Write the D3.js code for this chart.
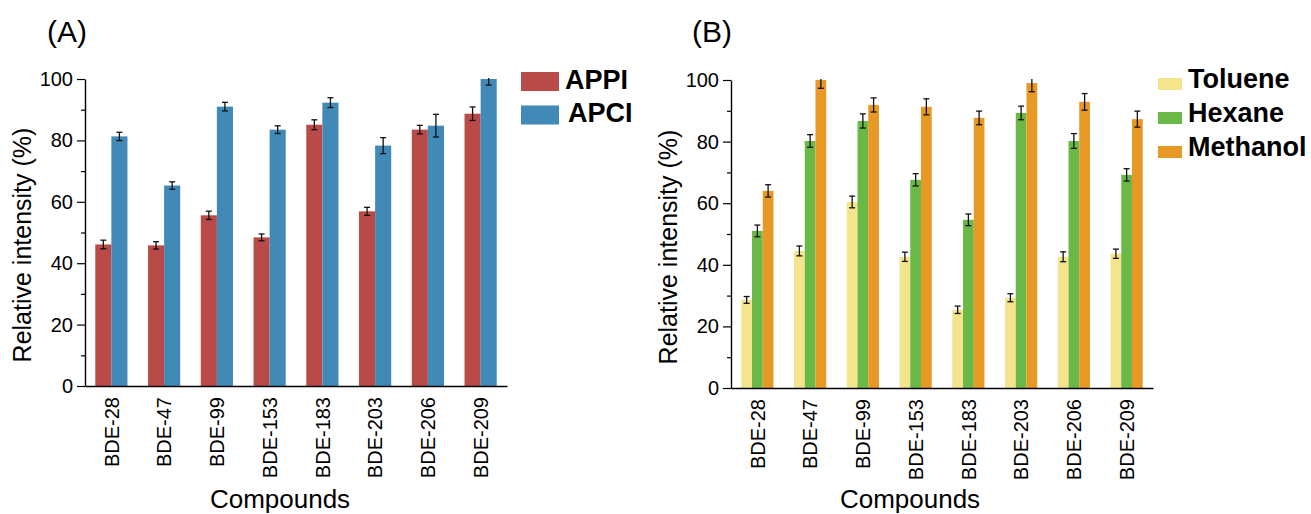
<!DOCTYPE html>
<html>
<head>
<meta charset="utf-8">
<script src="https://cdn.jsdelivr.net/npm/d3@7"></script>
<style>
  html, body { margin: 0; padding: 0; background: #fff; }
  svg { display: block; font-family: "Liberation Sans", Arial, sans-serif; }
</style>
</head>
<body>
<svg id="chart" width="1311" height="514"></svg>
<script>
// ---------- data ----------
const compounds = ["BDE-28", "BDE-47", "BDE-99", "BDE-153", "BDE-183", "BDE-203", "BDE-206", "BDE-209"];

// Panel A
const seriesA = ["APPI", "APCI"];
const appi    = [46.1, 45.8, 55.6, 48.4, 85.1, 56.9, 83.5, 88.7];
const appiErr = [1.4, 1.2, 1.35, 1.1, 1.6, 1.3, 1.4, 2.2];
const apci    = [81.3, 65.3, 91.0, 83.5, 92.3, 78.3, 84.8, 100];
const apciErr = [1.35, 1.2, 1.4, 1.25, 1.6, 2.6, 3.7, 2.0];

// Panel B
const seriesB = ["Toluene", "Hexane", "Methanol"];
const toluene     = [28.6, 44.5, 60.4, 42.6, 25.4, 29.3, 42.6, 43.6];
const tolueneErr  = [1.1, 1.6, 1.9, 1.5, 1.2, 1.3, 1.6, 1.5];
const hexane      = [51.0, 80.2, 86.7, 67.6, 54.6, 89.3, 80.2, 69.2];
const hexaneErr   = [1.9, 2.05, 2.3, 2.0, 1.9, 2.2, 2.4, 2.0];
const methanol    = [64.0, 100, 91.9, 91.3, 87.7, 99.0, 92.9, 87.3];
const methanolErr = [2.0, 2.7, 2.3, 2.6, 2.2, 2.8, 2.7, 2.6];

const yMajorTicks = [0, 20, 40, 60, 80, 100];
const yMinorTicks = [10, 30, 50, 70, 90];

const colorsA = ["#BA4A47", "#4189B6"];
const colorsB = ["#F4E48B", "#6AB946", "#E89824"];

// ---------- drawing ----------
const svg = d3.select("#chart");
const FONT = '"Liberation Sans", Arial, sans-serif';

function panel(opts) {
  const { left, right, top, bottom, series, values, errors, colors, tag, tagX,
          yLabelX, yLabelY, xLabelX, legendX, legendTextX, legendY, legendStep,
          swatchW, swatchH, swatchOff, clipId } = opts;

  const g = svg.append("g");

  const x = d3.scaleBand().domain(compounds).range([left, right])
    .paddingInner(0.39).paddingOuter(0.195);
  const xs = d3.scaleBand().domain(series).range([0, x.bandwidth()]);
  const y = d3.scaleLinear().domain([0, 100]).range([bottom, top]);

  // clip for error bars
  svg.append("defs").append("clipPath").attr("id", clipId)
    .append("rect").attr("x", left).attr("y", y(100) - 1)
    .attr("width", right - left).attr("height", y(0) - y(100) + 1);

  // bars
  series.forEach((s, si) => {
    g.append("g").selectAll("rect").data(compounds).join("rect")
      .attr("x", d => x(d) + xs(s))
      .attr("y", (d, i) => y(values[si][i]))
      .attr("width", xs.bandwidth())
      .attr("height", (d, i) => y(0) - y(values[si][i]))
      .attr("fill", colors[si]);
  });

  // error bars
  const eg = g.append("g").attr("clip-path", `url(#${clipId})`)
    .attr("stroke", "#111").attr("stroke-width", 1.3).attr("fill", "none");
  series.forEach((s, si) => {
    compounds.forEach((c, i) => {
      const cx = x(c) + xs(s) + xs.bandwidth() / 2;
      const v = values[si][i], e = errors[si][i];
      const y1 = y(v + e), y2 = y(v - e);
      eg.append("line").attr("x1", cx).attr("x2", cx).attr("y1", y1).attr("y2", y2);
      eg.append("line").attr("x1", cx - 3).attr("x2", cx + 3).attr("y1", y1).attr("y2", y1);
      eg.append("line").attr("x1", cx - 3).attr("x2", cx + 3).attr("y1", y2).attr("y2", y2);
    });
  });

  // y axis (major)
  const yAxis = g.append("g").attr("transform", `translate(${left},0)`)
    .call(d3.axisLeft(y).tickValues(yMajorTicks).tickSize(8).tickSizeOuter(0).tickPadding(4));
  yAxis.select(".domain").attr("stroke", "#000").attr("stroke-width", 1.4);
  yAxis.selectAll(".tick line").attr("stroke", "#000").attr("stroke-width", 1.2);
  yAxis.selectAll(".tick text").attr("font-family", FONT).attr("font-size", 20).attr("fill", "#000");
  // y axis (minor)
  const yMinor = g.append("g").attr("transform", `translate(${left},0)`)
    .call(d3.axisLeft(y).tickValues(yMinorTicks).tickSize(4).tickFormat(""));
  yMinor.select(".domain").remove();
  yMinor.selectAll(".tick line").attr("stroke", "#000").attr("stroke-width", 1.2);

  // x axis
  const xAxis = g.append("g").attr("transform", `translate(0,${bottom})`)
    .call(d3.axisBottom(x).tickSize(0).tickSizeOuter(0));
  xAxis.select(".domain").attr("stroke", "#000").attr("stroke-width", 1.4);
  xAxis.selectAll(".tick text")
    .attr("font-family", FONT).attr("font-size", 20).attr("fill", "#000")
    .attr("transform", "rotate(-90)")
    .attr("text-anchor", "end")
    .attr("x", -11).attr("y", 0).attr("dy", "0.36em");

  // axis titles
  g.append("text")
    .attr("transform", `translate(${yLabelX},${yLabelY}) rotate(-90)`)
    .attr("text-anchor", "middle").attr("font-family", FONT).attr("font-size", 25)
    .attr("fill", "#000").text("Relative intensity (%)");
  g.append("text").attr("x", xLabelX).attr("y", 508)
    .attr("text-anchor", "middle").attr("font-family", FONT).attr("font-size", 26)
    .attr("fill", "#000").text("Compounds");

  // panel tag
  g.append("text").attr("x", tagX).attr("y", 42)
    .attr("font-family", FONT).attr("font-size", 30).attr("fill", "#000").text(tag);

  // legend
  series.forEach((s, si) => {
    const ly = legendY + si * legendStep;
    g.append("rect").attr("x", legendX).attr("y", ly - swatchOff)
      .attr("width", swatchW).attr("height", swatchH).attr("fill", colors[si]);
    g.append("text").attr("x", legendTextX[si]).attr("y", ly)
      .attr("font-family", FONT).attr("font-size", 27).attr("font-weight", "bold")
      .attr("fill", "#000").text(s);
  });
}

panel({
  left: 85, right: 507, top: 79, bottom: 386,
  series: seriesA, values: [appi, apci], errors: [appiErr, apciErr], colors: colorsA,
  tag: "(A)", tagX: 47, yLabelX: 31, yLabelY: 245, xLabelX: 280,
  legendX: 521, legendTextX: [565, 568], legendY: 88.5, legendStep: 33.5,
  swatchW: 38, swatchH: 19, swatchOff: 16.5, clipId: "clipA"
});

panel({
  left: 731, right: 1153, top: 80, bottom: 388,
  series: seriesB, values: [toluene, hexane, methanol], errors: [tolueneErr, hexaneErr, methanolErr], colors: colorsB,
  tag: "(B)", tagX: 692, yLabelX: 677, yLabelY: 247, xLabelX: 910,
  legendX: 1158, legendTextX: [1188, 1188, 1188], legendY: 88, legendStep: 34,
  swatchW: 24, swatchH: 12, swatchOff: 10, clipId: "clipB"
});
</script>
</body>
</html>
